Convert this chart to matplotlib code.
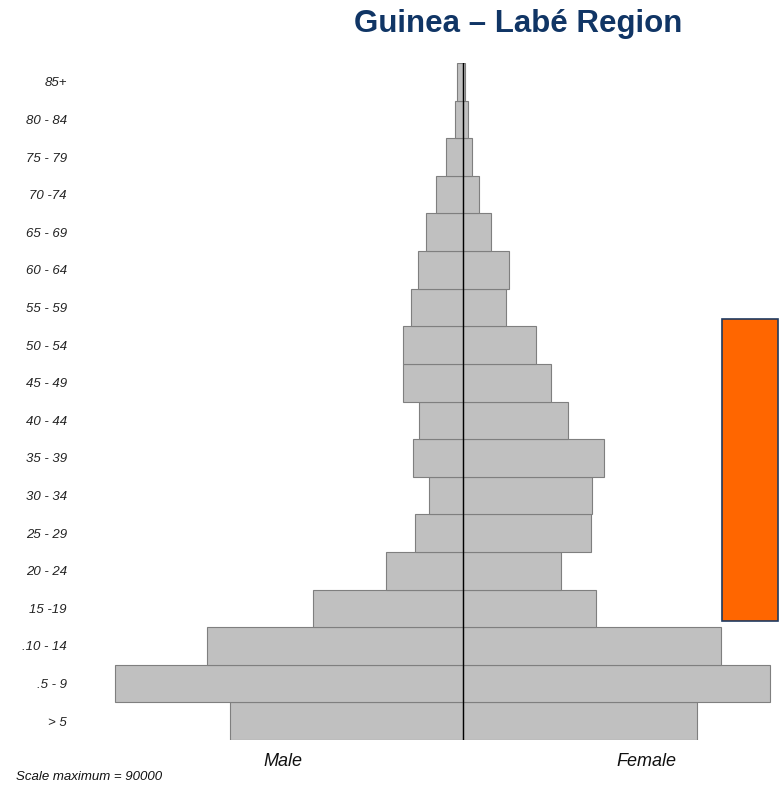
import matplotlib
matplotlib.use("Agg")
import matplotlib.pyplot as plt
from matplotlib.patches import Rectangle

age_groups = ["> 5", ".5 - 9", ".10 - 14", "15 -19", "20 - 24", "25 - 29", "30 - 34",
              "35 - 39", "40 - 44", "45 - 49", "50 - 54", "55 - 59", "60 - 64",
              "65 - 69", "70 -74", "75 - 79", "80 - 84", "85+"]
male = [58300, 87000, 64000, 37600, 19300, 11900, 8400, 12400, 10900, 15100,
        14900, 13100, 11300, 9300, 6800, 4300, 2100, 1500]
female = [58400, 76800, 64400, 33300, 24500, 32000, 32300, 35300, 26300, 22000,
          18300, 10800, 11400, 7000, 4100, 2300, 1200, 600]
scale_max = 90000

W, H = 782, 787
fig = plt.figure(figsize=(W / 100, H / 100), dpi=100)
fig.patch.set_facecolor("white")

fam = ["Liberation Sans", "DejaVu Sans"]

ax = fig.add_axes([103 / W, 47 / H, 720 / W, 677 / H])
ypos = list(range(len(age_groups)))
ax.barh(ypos, [-m for m in male], height=1.0, color="#C0C0C0", edgecolor="#7F7F7F", linewidth=0.8)
ax.barh(ypos, female, height=1.0, color="#C0C0C0", edgecolor="#7F7F7F", linewidth=0.8)
ax.axvline(0, color="black", linewidth=1.0)
ax.set_xlim(-scale_max, scale_max)
ax.set_ylim(-0.5, len(age_groups) - 0.5)
ax.set_xticks([])
ax.set_yticks(ypos)
ax.set_yticklabels(age_groups, fontstyle="italic", fontsize=9.5, family=fam, color="#222222")
ax.tick_params(axis="y", length=0, pad=26)
for s in ax.spines.values():
    s.set_visible(False)
ax.set_facecolor("none")

fig.text(518 / W, 1 - 24 / H, "Guinea \u2013 Labé Region", ha="center", va="center",
         fontsize=22.5, fontweight="bold", color="#103565", family=fam)
fig.text(283 / W, 1 - 762 / H, "Male", ha="center", va="center", fontsize=13,
         fontstyle="italic", family=fam, color="#111111")
fig.text(646 / W, 1 - 762 / H, "Female", ha="center", va="center", fontsize=13,
         fontstyle="italic", family=fam, color="#111111")
fig.text(16 / W, 1 - 777 / H, "Scale maximum = 90000", ha="left", va="center", fontsize=9.5,
         fontstyle="italic", family=fam, color="#111111")

fig.patches.append(Rectangle((722 / W, 1 - 621 / H), 56 / W, 302 / H, transform=fig.transFigure,
                             facecolor="#FF6600", edgecolor="#1F3A60", linewidth=1.2))

fig.savefig("out.png", dpi=100)
